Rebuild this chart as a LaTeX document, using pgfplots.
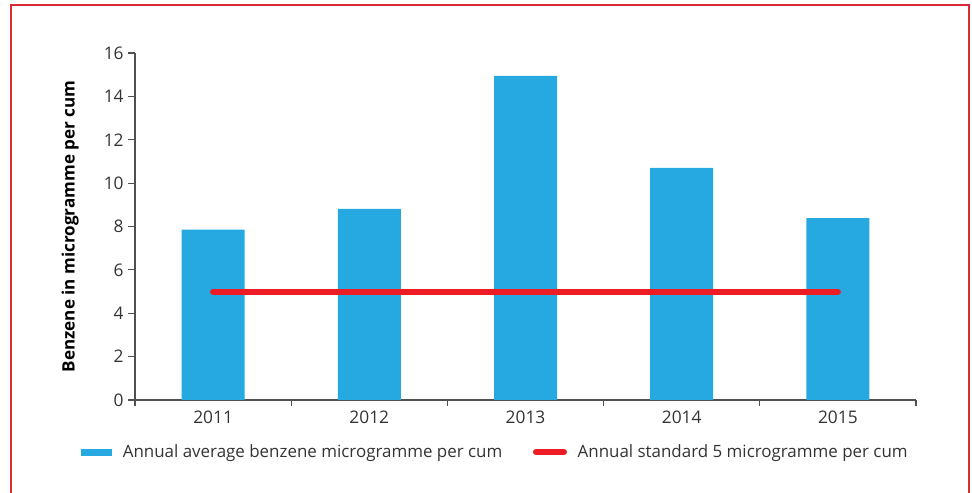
\documentclass[border=0pt]{standalone}
\usepackage{fontspec}
\setmainfont{Open Sans}
\usepackage{pgfplots}
\pgfplotsset{compat=1.18}
\definecolor{barblue}{HTML}{26A9E0}
\definecolor{stdred}{HTML}{ED1C24}
\definecolor{framered}{HTML}{DA2A33}
\definecolor{txt}{HTML}{333333}
\definecolor{axgray}{HTML}{505050}
\begin{document}
\begin{tikzpicture}
% 1 px of the reference = 0.75pt
\path[use as bounding box] (0pt,0pt) rectangle (729pt,369.75pt);
\draw[framered, line width=1.4pt] (8.25pt,0pt) -- (8.25pt,366pt) -- (726.75pt,366pt) -- (726.75pt,0pt);
\begin{axis}[
    at={(101.25pt,69.75pt)}, anchor=south west,
    scale only axis,
    width=585.75pt, height=260.25pt,
    xmin=-0.5, xmax=4.5, ymin=0, ymax=16,
    axis x line*=bottom, axis y line*=left,
    axis line style={axgray, line width=0.9pt},
    xtick={0,1,2,3,4},
    xticklabels={2011,2012,2013,2014,2015},
    minor xtick={-0.5,0.5,1.5,2.5,3.5,4.5},
    major x tick style={draw=none},
    minor x tick style={axgray, line width=0.9pt},
    ytick={0,2,...,16},
    ytick style={axgray, line width=0.9pt},
    tick align=outside,
    major tick length=5pt,
    minor tick length=4.5pt,
    /pgf/number format/assume math mode=true,
    ticklabel style={font=\fontsize{13}{15}\selectfont, text=txt},
    ylabel={\textbf{Benzene in microgramme per cum}},
    ylabel style={at={(axis description cs:-0.083,0.5)}, anchor=center, font=\fontsize{12.8}{15}\selectfont, text=black},
    legend columns=2,
    legend style={at={(axis description cs:-0.074,-0.15)}, anchor=west, draw=none, fill=none,
        font=\fontsize{12.7}{15}\selectfont, text=txt,
        /tikz/every odd column/.append style={column sep=6pt},
        /tikz/every even column/.append style={column sep=21pt}},
]
\addplot[ybar, bar width=47.25pt, fill=barblue, draw=none,
    legend image code/.code={\fill[barblue] (0pt,-2.6pt) rectangle (23pt,2.6pt);}]
    coordinates {(0,7.86) (1,8.81) (2,14.94) (3,10.70) (4,8.39)};
\addlegendentry{Annual average benzene microgramme per cum}
\addplot[stdred, line width=4.5pt, line cap=round,
    legend image code/.code={\draw[stdred, line width=4.5pt, line cap=round] (2.5pt,0pt) -- (23.5pt,0pt);}]
    coordinates {(0,5) (4,5)};
\addlegendentry{Annual standard 5 microgramme per cum}
\end{axis}
\end{tikzpicture}
\end{document}
